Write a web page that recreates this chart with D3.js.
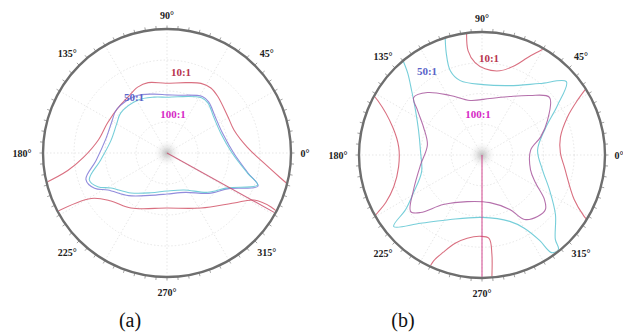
<!DOCTYPE html>
<html><head><meta charset="utf-8">
<script src="https://cdn.jsdelivr.net/npm/d3@7"></script>
<style>body{margin:0;background:#fff}svg{display:block}</style>
</head><body><svg id="c" width="623" height="334"></svg>
<script>
// ---------- data ----------
const angleTicks = [0, 45, 90, 135, 180, 225, 270, 315];
const panelNames = ["(a)", "(b)"];
const levelNames = ["10:1", "50:1", "100:1"];
// contour points: [azimuth (deg, ccw from 0°), polar viewing angle (deg, 0..80)]
const a10Upper = [[194,82],[190,65],[183,54],[169,45],[153,43],[137,43],[125,44],[114,46.5],[105,47],[91,45],[75,47],[64,50],[56,50.6],[48,49],[30.5,45.7],[19,45.7],[4,52],[354,63],[347.6,75],[345,82]];
const a10Lower = [[208,82],[211,57],[220.6,47.6],[236.8,42.4],[270,35.5],[301.7,41.7],[323.3,53.9],[331.6,63.8],[332.6,75.6],[331.6,82]];
const a50 = [[0,43],[20,38],[37.5,39],[50.6,42.5],[58,43],[79,38],[90,37.5],[103,39],[119,42],[139,43],[150,41],[167,40.5],[186,46],[198,55],[206,52],[212,45],[228,37],[248,29.5],[270,26.5],[295,28],[316,37.5],[330,46],[340,62.5],[346,54]];
const a100 = [[0,42],[20,37],[37.5,38],[50.6,41.7],[58,42],[79,37],[90,36],[103,37],[119,39],[139,39.5],[150,37.5],[167,37],[186,43],[199,53],[206,49.7],[212,42.6],[228,34.7],[248,27.7],[270,24.5],[295,26.3],[316,36.5],[330,45],[340.6,62],[346,53.5]];
const aCursor = [[331,0],[331,82]];

const b10Top = [[97,82],[97.6,68.3],[94.3,60.2],[88,56.1],[78,56],[70,61.8],[65,69.8],[61,77.4],[59,82]];
const b10Right = [[33,82],[30,72],[23.8,60.6],[12.8,52.3],[1.5,51],[351.8,54.1],[334.2,66.6],[329,77.5],[328,82]];
const b10Left = [[151,82],[152.4,76.5],[162.7,60.8],[174.6,54.4],[188.1,54.8],[199.8,61],[206.3,69.8],[208.9,77.4],[210,82]];
const b10Bottom = [[245,82],[245.4,75.9],[248.3,68],[253.1,60],[259.9,55],[268.6,52.9],[274.8,54.4],[275.7,64.8],[274.7,79],[274.5,82]];
const b50 = [[129.5,82],[132.1,72.2],[137.5,62.1],[146.1,52.1],[158.7,44.3],[177.2,40],[195.6,40.8],[208.8,50.8],[215.5,61],[219,73.9],[228,59.8],[243.8,46.7],[270,40.6],[292.7,46.8],[300,55],[304,67],[305.5,78],[309,79],[311,72.7],[320.96,61.5],[332.8,49.3],[346.2,40.5],[5.1,36.3],[22.9,44.8],[33.3,58.7],[41,72.7],[51.1,59.7],[68.2,48.6],[89.2,45.8],[106.3,50.4],[110.6,58.6],[109.3,70.4],[107,82]];
const b100 = [[139.9,58.1],[131.1,53.9],[118.1,43.9],[102.3,36.3],[82,37.1],[64.6,42.1],[51.3,49.6],[40.5,57.7],[27.9,48.2],[17,39.8],[5.8,31.8],[343,33],[332.6,39.2],[324.5,49.9],[319.3,54.4],[312.1,53.9],[303.5,50.3],[297,39.8],[279.5,31.4],[252.3,31.8],[232,40.9],[223.1,54.8],[218.4,59.2],[206.9,49.9],[189.2,40.5],[169.7,36.1],[154.6,42.1],[145.3,51]];
const bCursor = [[270,0],[270,82]];

// ---------- layout ----------
const panels = [
  { cx: 167, cy: 153, R: 124, name: panelNames[0], nameX: 130,
    lines: [
      {pts: a10Upper, color: "#d2566a", closed: false},
      {pts: a10Lower, color: "#d2566a", closed: false},
      {pts: a50, color: "#7f78d6", closed: true},
      {pts: a100, color: "#5ec6d2", closed: true},
      {pts: aCursor, color: "#c8506e", closed: false, linear: true}
    ],
    labels: [ {t: levelNames[0], dx: 14, dy: -81, c: "#b8344e"},
              {t: levelNames[1], dx: -33, dy: -56, c: "#5a64c8"},
              {t: levelNames[2], dx: 6, dy: -39, c: "#d62ac6"} ] },
  { cx: 482, cy: 155, R: 123, name: panelNames[1], nameX: 403,
    lines: [
      {pts: b10Top, color: "#d2566a", closed: false},
      {pts: b10Right, color: "#d2566a", closed: false},
      {pts: b10Left, color: "#d2566a", closed: false},
      {pts: b10Bottom, color: "#d2566a", closed: false},
      {pts: b50, color: "#5ec6d2", closed: false},
      {pts: b100, color: "#a8589e", closed: true},
      {pts: bCursor, color: "#d03a86", closed: false, linear: true}
    ],
    labels: [ {t: levelNames[0], dx: 7, dy: -97, c: "#b8344e"},
              {t: levelNames[1], dx: -55, dy: -84, c: "#5a64c8"},
              {t: levelNames[2], dx: -4, dy: -41, c: "#d62ac6"} ] }
];
// extra label distance beyond the ring, per direction
const labelGap = {0: 14, 45: 17, 90: 14, 135: 17, 180: 21, 225: 17, 270: 15, 315: 17};

const svg = d3.select("#c");
const defs = svg.append("defs");
const grad = defs.append("radialGradient").attr("id", "cg");
grad.append("stop").attr("offset", "0%").attr("stop-color", "#bdbdbd");
grad.append("stop").attr("offset", "100%").attr("stop-color", "#ffffff").attr("stop-opacity", 0);

const rad = d => d * Math.PI / 180;

panels.forEach((p, i) => {
  const r = d3.scaleLinear().domain([0, 80]).range([0, p.R]);
  const g = svg.append("g").attr("transform", `translate(${p.cx},${p.cy})`);
  defs.append("clipPath").attr("id", "clip" + i)
    .append("circle").attr("r", p.R - 1);

  // grid
  const grid = g.append("g").attr("fill", "none").attr("stroke", "#dcdcdc")
    .attr("stroke-width", 0.7).attr("stroke-dasharray", "1.5,2");
  [20, 40, 60].forEach(v => grid.append("circle").attr("r", r(v)));
  d3.range(0, 360, 30).forEach(a => {
    grid.append("line").attr("x1", 0).attr("y1", 0)
      .attr("x2", r(80) * Math.cos(rad(a))).attr("y2", -r(80) * Math.sin(rad(a)));
  });
  g.append("circle").attr("r", 14).attr("fill", "url(#cg)");

  // contours
  const cg = g.append("g").attr("clip-path", `url(#clip${i})`).attr("fill", "none");
  p.lines.forEach(l => {
    const gen = d3.lineRadial()
      .angle(d => rad(90 - d[0]))
      .radius(d => r(d[1]))
      .curve(l.linear ? d3.curveLinear : (l.closed ? d3.curveCatmullRomClosed.alpha(0.5) : d3.curveCatmullRom.alpha(0.5)));
    cg.append("path").attr("d", gen(l.pts)).attr("stroke", l.color)
      .attr("stroke-width", 1.1).attr("stroke-opacity", 0.85);
  });

  // outer ring + ticks
  const ticks = g.append("g").attr("stroke", "#8a8a8a").attr("stroke-width", 0.8);
  d3.range(0, 360, 5).forEach(a => {
    ticks.append("line")
      .attr("x1", (p.R) * Math.cos(rad(a))).attr("y1", -(p.R) * Math.sin(rad(a)))
      .attr("x2", (p.R + 3.5) * Math.cos(rad(a))).attr("y2", -(p.R + 3.5) * Math.sin(rad(a)));
  });
  g.append("circle").attr("r", p.R).attr("fill", "none").attr("stroke", "#6e6e6e").attr("stroke-width", 2.4);

  // angle labels
  angleTicks.forEach(a => {
    const lr = p.R + labelGap[a];
    g.append("text")
      .attr("x", lr * Math.cos(rad(a))).attr("y", -lr * Math.sin(rad(a)))
      .attr("text-anchor", "middle").attr("dominant-baseline", "central")
      .attr("font-family", "Liberation Serif, serif").attr("font-weight", "bold")
      .attr("font-size", 10).attr("fill", "#222")
      .text(a + "°");
  });

  // level labels
  p.labels.forEach(lb => {
    g.append("text").attr("x", lb.dx).attr("y", lb.dy)
      .attr("text-anchor", "middle").attr("dominant-baseline", "central")
      .attr("font-family", "Liberation Serif, serif").attr("font-weight", "bold")
      .attr("font-size", 11).attr("fill", lb.c).text(lb.t);
  });

  // panel caption
  svg.append("text").attr("x", p.nameX).attr("y", 320)
    .attr("text-anchor", "middle").attr("dominant-baseline", "central")
    .attr("font-family", "Liberation Serif, serif").attr("font-size", 20)
    .attr("fill", "#111").text(p.name);
});
</script>
</body></html>
